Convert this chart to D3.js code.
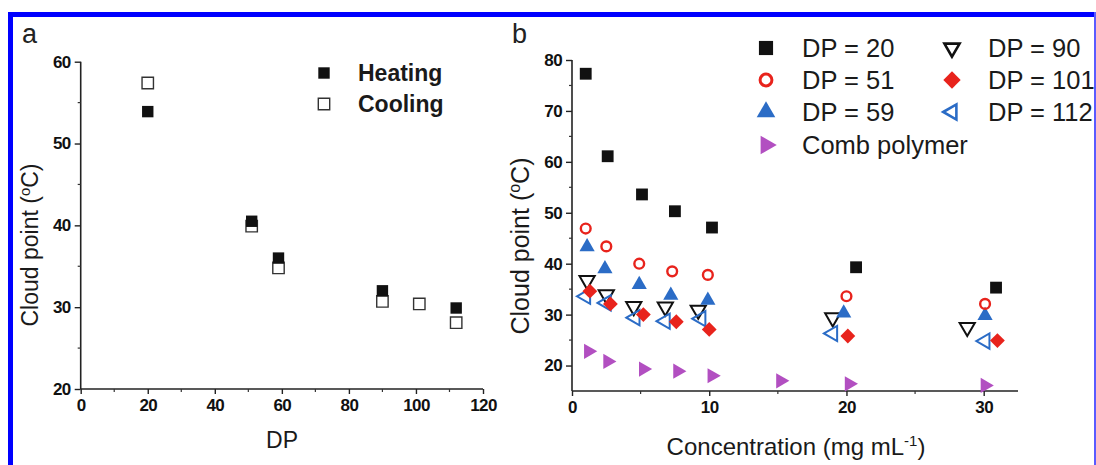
<!DOCTYPE html>
<html><head><meta charset="utf-8">
<script src="https://cdn.jsdelivr.net/npm/d3@7"></script>
<style>body{margin:0;background:#fff}svg{display:block}</style>
</head><body>
<svg id="c" width="1096" height="465"></svg>
<script>
// ---- Panel a data ----
const heatingDP = [20, 51, 59, 90, 112];
const heatingCP = [53.9, 40.5, 36.0, 32.0, 29.9];
const coolingDP = [20, 51, 59, 90, 101, 112];
const coolingCP = [57.4, 39.9, 34.8, 30.7, 30.4, 28.1];
const aXTicks = [0, 20, 40, 60, 80, 100, 120];
const aYTicks = [20, 30, 40, 50, 60];

// ---- Panel b data ----
const conc20 = [1.0, 2.6, 5.1, 7.5, 10.2, 20.7, 30.9];
const cp20 = [77.3, 61.1, 53.6, 50.3, 47.1, 39.3, 35.3];
const conc51 = [1.0, 2.5, 4.9, 7.3, 9.9, 20.0, 30.1];
const cp51 = [46.9, 43.4, 40.0, 38.5, 37.8, 33.6, 32.1];
const conc59 = [1.1, 2.4, 4.9, 7.2, 9.9, 19.8, 30.1];
const cp59 = [43.3, 39.0, 35.9, 33.8, 32.8, 30.3, 29.8];
const conc90 = [1.1, 2.5, 4.5, 6.8, 9.2, 19.0, 28.8];
const cp90 = [36.7, 33.9, 31.6, 31.5, 30.9, 29.4, 27.5];
const conc101 = [1.3, 2.8, 5.2, 7.6, 10.0, 20.1, 31.0];
const cp101 = [34.6, 32.1, 30.0, 28.6, 27.1, 25.8, 24.9];
const conc112 = [1.0, 2.5, 4.6, 6.8, 9.4, 19.0, 30.1];
const cp112 = [33.6, 32.3, 29.4, 28.7, 29.2, 26.3, 24.8];
const concComb = [1.2, 2.6, 5.2, 7.7, 10.2, 15.2, 20.2, 30.1];
const cpComb = [22.8, 20.8, 19.3, 18.9, 18.0, 17.0, 16.4, 16.1];
const bXTicks = [0, 10, 20, 30];
const bYTicks = [20, 30, 40, 50, 60, 70, 80];
const bLegend = ["DP = 20", "DP = 51", "DP = 59", "Comb polymer", "DP = 90", "DP = 101", "DP = 112"];

const RED = "#e8231c", BLUE = "#2b6cc6", PURPLE = "#b24fc1";
const svg = d3.select("#c");

// frame
svg.append("rect").attr("x", 8).attr("y", 12).attr("width", 1096 - 8).attr("height", 5).attr("fill", "#0000ff");
svg.append("rect").attr("x", 8).attr("y", 12).attr("width", 5).attr("height", 465).attr("fill", "#0000ff");
svg.append("rect").attr("x", 1094).attr("y", 12).attr("width", 2).attr("height", 465).attr("fill", "#5a5aff");

const tickFont = "'Liberation Sans', Arial, sans-serif";

function drawAxes(x, y, xTicks, yTicks, xMinor, yMinor) {
  const g = svg.append("g");
  const [x0, x1] = x.range(); const [y0, y1] = y.range();
  g.append("line").attr("x1", x0).attr("x2", x1).attr("y1", y0).attr("y2", y0).attr("stroke", "#222").attr("stroke-width", 1.6);
  g.append("line").attr("x1", x0).attr("x2", x0).attr("y1", y0).attr("y2", y1).attr("stroke", "#222").attr("stroke-width", 1.6);
  const xa = d3.axisBottom(x).tickValues(xTicks).tickSize(5).tickFormat(d3.format("d"));
  const gx = g.append("g").attr("transform", `translate(0,${y0})`).call(xa);
  gx.select(".domain").remove();
  gx.selectAll("line").attr("stroke", "#222").attr("stroke-width", 1.4);
  gx.selectAll("text").attr("font-family", tickFont).attr("font-weight", "bold").attr("font-size", 17)
    .attr("letter-spacing", -0.6).attr("fill", "#111").attr("dy", "0.8em");
  g.selectAll(".xm").data(xMinor).join("line").attr("x1", d => x(d)).attr("x2", d => x(d))
    .attr("y1", y0).attr("y2", y0 + 3).attr("stroke", "#333").attr("stroke-width", 1.2);
  const ya = d3.axisLeft(y).tickValues(yTicks).tickSize(6).tickFormat(d3.format("d"));
  const gy = g.append("g").attr("transform", `translate(${x0},0)`).call(ya);
  gy.select(".domain").remove();
  gy.selectAll("line").attr("stroke", "#222").attr("stroke-width", 1.4);
  gy.selectAll("text").attr("font-family", tickFont).attr("font-weight", "bold").attr("font-size", 17)
    .attr("letter-spacing", -0.6).attr("fill", "#111").attr("dx", "-1");
  g.selectAll(".ym").data(yMinor).join("line").attr("x1", x0 - 3).attr("x2", x0)
    .attr("y1", d => y(d)).attr("y2", d => y(d)).attr("stroke", "#333").attr("stroke-width", 1.2);
}

// ---------- Panel a ----------
const xa = d3.scaleLinear().domain([0, 120]).range([80.7, 483]);
const ya = d3.scaleLinear().domain([20, 60]).range([389, 61.7]);
drawAxes(xa, ya, aXTicks, aYTicks, [10, 30, 50, 70, 90, 110], [25, 35, 45, 55]);

const sqA = d3.symbol().type(d3.symbolSquare).size(130);
svg.append("g").selectAll("path").data(coolingDP.map((d, i) => [d, coolingCP[i]])).join("path")
  .attr("d", sqA).attr("transform", d => `translate(${xa(d[0])},${ya(d[1])})`)
  .attr("fill", "#fff").attr("stroke", "#333").attr("stroke-width", 1.4);
svg.append("g").selectAll("path").data(heatingDP.map((d, i) => [d, heatingCP[i]])).join("path")
  .attr("d", sqA).attr("transform", d => `translate(${xa(d[0])},${ya(d[1])})`)
  .attr("fill", "#111");

// legend a
svg.append("path").attr("d", sqA).attr("transform", "translate(324,73)").attr("fill", "#111");
svg.append("path").attr("d", sqA).attr("transform", "translate(324,104)").attr("fill", "#fff").attr("stroke", "#333").attr("stroke-width", 1.4);
svg.append("text").attr("x", 358).attr("y", 81).text("Heating").attr("font-family", tickFont).attr("font-weight", "bold").attr("font-size", 23).attr("fill", "#1a1a1a");
svg.append("text").attr("x", 358).attr("y", 112).text("Cooling").attr("font-family", tickFont).attr("font-weight", "bold").attr("font-size", 23).attr("fill", "#1a1a1a");

svg.append("text").attr("x", 22).attr("y", 43).text("a").attr("font-family", tickFont).attr("font-size", 27).attr("fill", "#222");
svg.append("text").attr("x", 282).attr("y", 448).attr("text-anchor", "middle").text("DP")
  .attr("font-family", tickFont).attr("font-size", 23).attr("fill", "#1a1a1a");
svg.append("text").attr("transform", "translate(38,245) rotate(-90)").attr("text-anchor", "middle")
  .attr("font-family", tickFont).attr("font-size", 23).attr("fill", "#1a1a1a")
  .html('Cloud point (<tspan dy="-8" font-size="15">o</tspan><tspan dy="8">C)</tspan>');

// ---------- Panel b ----------
const xb = d3.scaleLinear().domain([0, 32.5]).range([572, 1018]);
const yb = d3.scaleLinear().domain([15, 80]).range([391, 60]);
drawAxes(xb, yb, bXTicks, bYTicks, [5, 15, 25], [25, 35, 45, 55, 65, 75]);

const tri = d3.symbol().type(d3.symbolTriangle).size(100);
const sqB = d3.symbol().type(d3.symbolSquare).size(140);
const dia = d3.symbol().type(d3.symbolSquare).size(110);
const circ = d3.symbol().type(d3.symbolCircle).size(75);
const triL = d3.symbol().type(d3.symbolTriangle).size(150);
const sqL = d3.symbol().type(d3.symbolSquare).size(200);
const diaL = d3.symbol().type(d3.symbolSquare).size(150);
const circL = d3.symbol().type(d3.symbolCircle).size(110);

const series = [
  {xs: conc90, ys: cp90, sym: tri, rot: 180, fill: "none", stroke: "#111", sw: 2},
  {xs: conc112, ys: cp112, sym: tri, rot: -90, fill: "none", stroke: BLUE, sw: 2},
  {xs: conc101, ys: cp101, sym: dia, rot: 45, fill: RED, stroke: "none", sw: 0},
  {xs: conc59, ys: cp59, sym: tri, rot: 0, fill: BLUE, stroke: "none", sw: 0},
  {xs: conc51, ys: cp51, sym: circ, rot: 0, fill: "none", stroke: RED, sw: 2.4},
  {xs: concComb, ys: cpComb, sym: tri, rot: 90, fill: PURPLE, stroke: "none", sw: 0},
  {xs: conc20, ys: cp20, sym: sqB, rot: 0, fill: "#111", stroke: "none", sw: 0}
];
series.forEach(s => {
  svg.append("g").selectAll("path").data(s.xs.map((d, i) => [d, s.ys[i]])).join("path")
    .attr("d", s.sym).attr("transform", d => `translate(${xb(d[0])},${yb(d[1])}) rotate(${s.rot})`)
    .attr("fill", s.fill).attr("stroke", s.stroke).attr("stroke-width", s.sw);
});

// legend b
const legItems = [
  {label: bLegend[0], sym: sqL, rot: 0, fill: "#111", stroke: "none", sw: 0, x: 766, y: 48},
  {label: bLegend[1], sym: circL, rot: 0, fill: "none", stroke: RED, sw: 3, x: 766, y: 80},
  {label: bLegend[2], sym: triL, rot: 0, fill: BLUE, stroke: "none", sw: 0, x: 766, y: 112},
  {label: bLegend[3], sym: triL, rot: 90, fill: PURPLE, stroke: "none", sw: 0, x: 766, y: 145},
  {label: bLegend[4], sym: tri, rot: 180, fill: "none", stroke: "#111", sw: 2.6, x: 952, y: 48},
  {label: bLegend[5], sym: diaL, rot: 45, fill: RED, stroke: "none", sw: 0, x: 952, y: 80},
  {label: bLegend[6], sym: tri, rot: -90, fill: "none", stroke: BLUE, sw: 2.6, x: 952, y: 112}
];
legItems.forEach(l => {
  svg.append("path").attr("d", l.sym).attr("transform", `translate(${l.x},${l.y}) rotate(${l.rot})`)
    .attr("fill", l.fill).attr("stroke", l.stroke).attr("stroke-width", l.sw);
  svg.append("text").attr("x", l.x + 36).attr("y", l.y + 9).text(l.label)
    .attr("font-family", tickFont).attr("font-size", 25.5).attr("fill", "#1a1a1a");
});

svg.append("text").attr("x", 512).attr("y", 43).text("b").attr("font-family", tickFont).attr("font-size", 27).attr("fill", "#222");
svg.append("text").attr("x", 796).attr("y", 455).attr("text-anchor", "middle")
  .attr("font-family", tickFont).attr("font-size", 24).attr("fill", "#1a1a1a")
  .html('Concentration (mg mL<tspan dy="-9" font-size="15">-1</tspan><tspan dy="9">)</tspan>');
svg.append("text").attr("transform", "translate(529,246) rotate(-90)").attr("text-anchor", "middle")
  .attr("font-family", tickFont).attr("font-size", 25).attr("fill", "#1a1a1a")
  .html('Cloud point (<tspan dy="-9" font-size="16">o</tspan><tspan dy="9">C)</tspan>');
</script>
</body></html>
